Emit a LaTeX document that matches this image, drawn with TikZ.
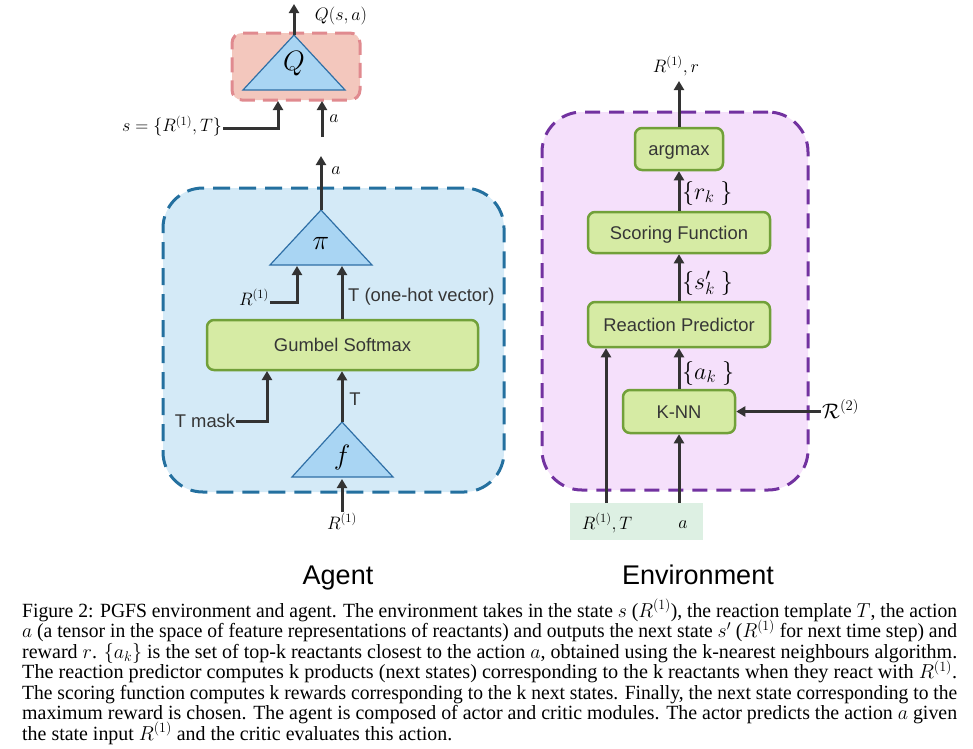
\RequirePackage{fix-cm}
\documentclass[tikz,border=0pt]{standalone}
\usepackage{fontspec}
\setmainfont{Liberation Serif}
\setsansfont{Liberation Sans}
\usepackage{graphicx}
\usetikzlibrary{arrows.meta}

\definecolor{arrowc}{HTML}{333333}
\definecolor{txtc}{HTML}{363636}
\definecolor{greenfill}{HTML}{D6EBA4}
\definecolor{greenline}{HTML}{71A039}
\definecolor{agentfill}{HTML}{D4EAF7}
\definecolor{agentline}{HTML}{24709F}
\definecolor{envfill}{HTML}{F5E0FB}
\definecolor{envline}{HTML}{7232A0}
\definecolor{qfill}{HTML}{F3C7BD}
\definecolor{qline}{HTML}{E08A8F}
\definecolor{trifill}{HTML}{A9D5F3}
\definecolor{triline}{HTML}{2F6FA6}
\definecolor{inputfill}{HTML}{DDF0E3}

\newcommand\sansfs{\fontsize{18.4}{22}\selectfont\sffamily}
\newcommand\capfs{\fontsize{18}{20}\selectfont\rmfamily}
% one justified caption line: stretched to a given width, a little taller than wide
\newcommand\capline[2]{\scalebox{1}[1.12]{\resizebox{#1}{\height}{#2}}}

\tikzset{
  arr/.style={draw=arrowc, line width=3pt, -{Triangle[length=9pt,width=10pt]}},
  gbox/.style={draw=greenline, fill=greenfill, line width=2.5pt, rounded corners=7pt,
    font=\sansfs, text=txtc, inner sep=0pt, text height=13.2pt, text depth=0pt},
  agentpanel/.style={draw=agentline, fill=agentfill, line width=3pt,
    dash pattern=on 17pt off 9pt, rounded corners=40pt, inner sep=0pt},
  envpanel/.style={draw=envline, fill=envfill, line width=3pt,
    dash pattern=on 15pt off 9pt, rounded corners=40pt, inner sep=0pt},
  qpanel/.style={draw=qline, fill=qfill, line width=3pt,
    dash pattern=on 15pt off 8pt, rounded corners=10pt, inner sep=0pt},
  inbox/.style={fill=inputfill, inner sep=0pt},
  tri/.style={draw=triline, fill=trifill, line width=1.2pt, line join=miter},
  trilab/.style={inner sep=0pt, font=\fontsize{28}{30}\selectfont},
  mlab/.style={inner sep=1pt, font=\fontsize{18}{20}\selectfont},
  blab/.style={inner sep=1pt, font=\fontsize{24}{27}\selectfont},
  slab/.style={inner sep=1pt, font=\sansfs, text=txtc},
  title/.style={inner sep=0pt, font=\fontsize{27}{30}\selectfont\sffamily, anchor=base},
  capnode/.style={inner sep=0pt, anchor=base west, font=\capfs}
}

\begin{document}
\begin{tikzpicture}[x=1pt, y=-1pt]
\useasboundingbox (0,0) rectangle (973,748);

% ---------- panels ----------
\node[agentpanel, minimum width=341pt, minimum height=304pt] (agent) at (333.5,340) {};
\node[envpanel, minimum width=266pt, minimum height=378pt] (env) at (675,301) {};
\node[qpanel, minimum width=128pt, minimum height=67pt] (critic) at (296,66.5) {};
\node[inbox, minimum width=133pt, minimum height=37pt] (inputs) at (636.5,521.5) {};

% ---------- critic Q ----------
\draw[tri] (243,90) -- (294,35) -- (345,90) -- cycle;
\node[trilab] (qlab) at (294,64) {$Q$};
\coordinate (qtop) at (294,35);
\coordinate (qout) at (294,4);
\draw[arr] (qtop) -- (qout);
\node[mlab] (qsa) at (341,16) {$Q(s,a)$};

\node[mlab] (slab) at (172,126) {$s=\{R^{(1)},T\}$};
\coordinate (qin1) at (278,101);
\draw[arr] ([yshift=-2pt]slab.east) -| (qin1);

\coordinate (ain) at (322,137);
\coordinate (qin2) at (322,101);
\draw[arr] (ain) -- (qin2);
\node[mlab] (aq) at (334,119) {$a$};

% ---------- actor ----------
\draw[tri] (270,265) -- (321,210) -- (372,265) -- cycle;
\node[trilab] (pilab) at (321,243) {$\pi$};
\coordinate (pitop) at (321,210);
\coordinate (piout) at (321,156);
\draw[arr] (pitop) -- (piout);
\node[mlab] (api) at (336,171) {$a$};

\node[mlab, anchor=base] (rpi) at (254,305) {$R^{(1)}$};
\coordinate (piin1) at (297,266);
\draw[arr] ([yshift=3pt]rpi.base east) -| (piin1);

\node[gbox, minimum width=271pt, minimum height=50pt] (gumbel) at (342.5,345) {Gumbel Softmax};

\coordinate (piin2) at (342,266);
\draw[arr] (gumbel.north -| piin2) -- (piin2);
\node[slab, anchor=west] (onehot) at (347,297) {T (one-hot vector)};

\node[slab] (tmask) at (205,421) {T mask};
\coordinate (gin1) at (267,371);
\draw[arr] (tmask.east) -| (gin1);

\draw[tri] (292,477) -- (342,422) -- (393,477) -- cycle;
\node[trilab] (flab) at (342,457) {$f$};
\coordinate (ftop) at (342,422);
\draw[arr] (ftop) -- (gumbel.south -| ftop);
\node[slab] (tf) at (355,399) {T};

\node[mlab] (rf) at (342,521) {$R^{(1)}$};
\coordinate (fin) at (342,479);
\draw[arr] (rf.north) -- (fin);

% ---------- environment ----------
\node[gbox, minimum width=88pt, minimum height=42pt] (argmax) at (679,149) {argmax};
\node[gbox, minimum width=182pt, minimum height=41pt] (scoring) at (679,232.5) {Scoring Function};
\node[gbox, minimum width=182pt, minimum height=45pt] (reaction) at (679,324.5) {Reaction Predictor};
\node[gbox, minimum width=112pt, minimum height=43pt] (knn) at (679,411.5) {K-NN};

\coordinate (envout) at (679,81);
\draw[arr] (argmax.north) -- (envout);
\node[mlab] (rr) at (676,66) {$R^{(1)},r$};

\draw[arr] (scoring.north) -- (argmax.south);
\node[blab, anchor=west] (rk) at (681,193) {$\{r_k\ \}$};
\draw[arr] (reaction.north) -- (scoring.south);
\node[blab, anchor=west] (sk) at (681,283) {$\{s'_k\ \}$};
\draw[arr] (knn.north) -- (reaction.south);
\node[blab, anchor=west] (ak) at (681,373) {$\{a_k\ \}$};

\node[inner sep=1pt, font=\fontsize{21}{24}\selectfont, anchor=west] (r2) at (821,409) {$\mathcal{R}^{(2)}$};
\draw[arr] (r2.west |- knn.east) -- (knn.east);

\node[mlab] (rt) at (607,523) {$R^{(1)},T$};
\node[mlab] (abot) at (683,525) {$a$};
\coordinate (in1) at (606,503);
\coordinate (in2) at (679,503);
\draw[arr] (in1) -- (reaction.south -| in1);
\draw[arr] (in2) -- (knn.south);

% ---------- titles ----------
\node[title] (agenttitle) at (338,584) {Agent};
\node[title] (envtitle) at (698,584) {Environment};

% ---------- caption ----------
\node[capnode] (cap1) at (22,617) {\capline{935pt}{Figure 2: PGFS environment and agent. The environment takes in the state $s$ ($R^{(1)}$), the reaction template $T$, the action}};
\node[capnode] (cap2) at (22,637.5) {\capline{935pt}{$a$ (a tensor in the space of feature representations of reactants) and outputs the next state $s'$ ($R^{(1)}$ for next time step) and}};
\node[capnode] (cap3) at (22,658) {\capline{935pt}{reward $r$. $\{a_k\}$ is the set of top-k reactants closest to the action $a$, obtained using the k-nearest neighbours algorithm.}};
\node[capnode] (cap4) at (22,678.5) {\capline{935pt}{The reaction predictor computes k products (next states) corresponding to the k reactants when they react with $R^{(1)}$.}};
\node[capnode] (cap5) at (22,699) {\capline{935pt}{The scoring function computes k rewards corresponding to the k next states. Finally, the next state corresponding to the}};
\node[capnode] (cap6) at (22,719.5) {\capline{935pt}{maximum reward is chosen. The agent is composed of actor and critic modules. The actor predicts the action $a$ given}};
\node[capnode] (cap7) at (22,740) {\capline{430pt}{the state input $R^{(1)}$ and the critic evaluates this action.}};
\end{tikzpicture}
\end{document}
